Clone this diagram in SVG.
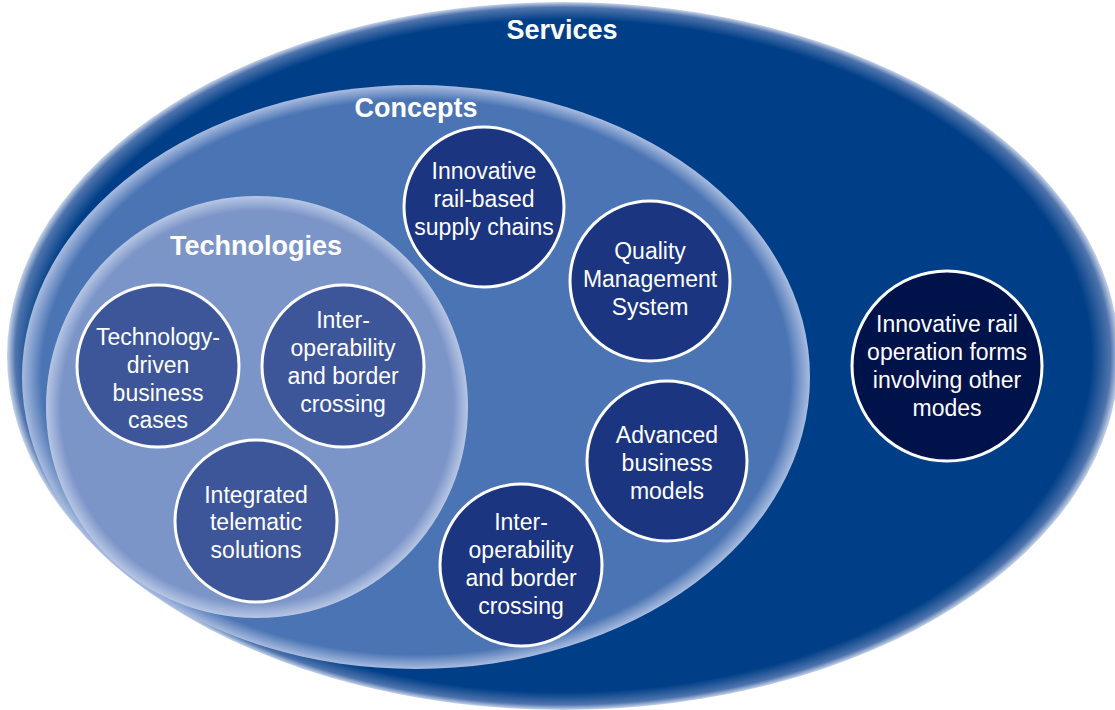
<svg xmlns="http://www.w3.org/2000/svg" width="1115" height="710" viewBox="0 0 1115 710">
<defs>
<radialGradient id="gSrv" cx="0.5" cy="0.5" r="0.5">
<stop offset="0" stop-color="#003f87"/>
<stop offset="0.95" stop-color="#003f87"/>
<stop offset="0.985" stop-color="#4f74ad"/>
<stop offset="1" stop-color="#c9d5ea"/>
</radialGradient>
<radialGradient id="gCon" cx="0.5" cy="0.5" r="0.5">
<stop offset="0" stop-color="#4a74b3"/>
<stop offset="0.95" stop-color="#4a74b3"/>
<stop offset="1" stop-color="#a9bce0"/>
</radialGradient>
<radialGradient id="gTec" cx="0.5" cy="0.5" r="0.5">
<stop offset="0" stop-color="#7c95c8"/>
<stop offset="0.93" stop-color="#7c95c8"/>
<stop offset="1" stop-color="#b7c6e4"/>
</radialGradient>
</defs>
<style>
.title{font-family:"Liberation Sans",Arial,sans-serif;font-weight:bold;font-size:27px;fill:#fff;text-anchor:middle}
.lbl{font-family:"Liberation Sans",Arial,sans-serif;font-size:23px;fill:#fff;text-anchor:middle}
.tc{fill:#3d5599;stroke:#fff;stroke-width:3}
.cc{fill:#1b3580;stroke:#fff;stroke-width:3}
.sc{fill:#00124a;stroke:#fff;stroke-width:3}
</style>
<rect width="1115" height="710" fill="#fff"/>
<g id="services">
<ellipse cx="563" cy="356" rx="556" ry="354" fill="url(#gSrv)"/>
<text class="title" x="562" y="39">Services</text>
</g>
<g id="concepts">
<ellipse cx="416" cy="377" rx="394" ry="292" fill="url(#gCon)"/>
<text class="title" x="416" y="117">Concepts</text>
</g>
<g id="technologies">
<circle cx="257" cy="407" r="211" fill="url(#gTec)"/>
<text class="title" x="256" y="255">Technologies</text>
</g>
<g id="connectors"></g>
<g id="tech-driven">
<circle class="tc" cx="158" cy="366" r="81"/>
<text class="lbl"><tspan x="158" y="345">Technology-</tspan><tspan x="158" y="373">driven</tspan><tspan x="158" y="401">business</tspan><tspan x="158" y="428">cases</tspan></text>
</g>
<g id="tech-interop">
<circle class="tc" cx="343" cy="366" r="81"/>
<text class="lbl"><tspan x="343" y="328">Inter-</tspan><tspan x="343" y="356">operability</tspan><tspan x="343" y="384">and border</tspan><tspan x="343" y="412">crossing</tspan></text>
</g>
<g id="telematic">
<circle class="tc" cx="256" cy="521" r="81"/>
<text class="lbl"><tspan x="256" y="503">Integrated</tspan><tspan x="256" y="530">telematic</tspan><tspan x="256" y="558">solutions</tspan></text>
</g>
<g id="supply-chains">
<circle class="cc" cx="484" cy="207" r="80"/>
<text class="lbl"><tspan x="484" y="179">Innovative</tspan><tspan x="484" y="207">rail-based</tspan><tspan x="484" y="235">supply chains</tspan></text>
</g>
<g id="qms">
<circle class="cc" cx="650" cy="281" r="80"/>
<text class="lbl"><tspan x="650" y="259">Quality</tspan><tspan x="650" y="287">Management</tspan><tspan x="650" y="315">System</tspan></text>
</g>
<g id="business-models">
<circle class="cc" cx="667" cy="461" r="80"/>
<text class="lbl"><tspan x="667" y="443">Advanced</tspan><tspan x="667" y="471">business</tspan><tspan x="667" y="499">models</tspan></text>
</g>
<g id="concept-interop">
<circle class="cc" cx="521" cy="565" r="81"/>
<text class="lbl"><tspan x="521" y="530">Inter-</tspan><tspan x="521" y="558">operability</tspan><tspan x="521" y="586">and border</tspan><tspan x="521" y="614">crossing</tspan></text>
</g>
<g id="rail-operation">
<circle class="sc" cx="947" cy="366" r="95"/>
<text class="lbl"><tspan x="947" y="332">Innovative rail</tspan><tspan x="947" y="360">operation forms</tspan><tspan x="947" y="388">involving other</tspan><tspan x="947" y="416">modes</tspan></text>
</g>
</svg>
